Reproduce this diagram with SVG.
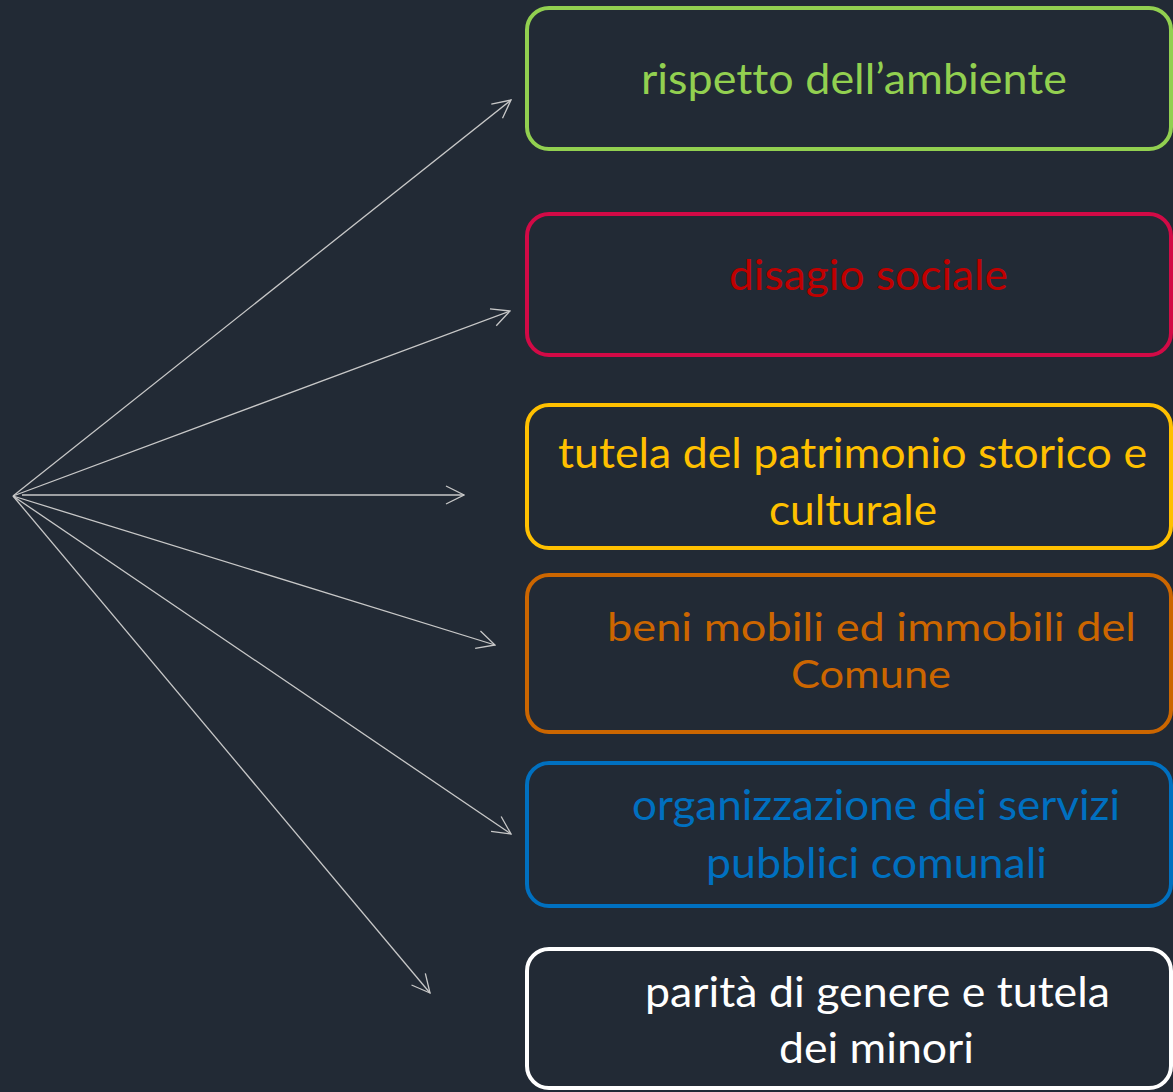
<svg xmlns="http://www.w3.org/2000/svg" width="1173" height="1092" viewBox="0 0 1173 1092">
<style>
.box{fill:#222A35;stroke-width:4}
.lbl{font-family:Lato,"Open Sans","Noto Sans","Liberation Sans",sans-serif;font-size:42px;text-anchor:start;font-variant-ligatures:none;font-feature-settings:"liga" 0}
.sm{font-size:38px}
.conn{stroke:#C8C8C8;stroke-width:1.3;fill:none;marker-end:url(#ah)}
</style>
<defs>
<marker id="ah" markerUnits="userSpaceOnUse" viewBox="0 0 20 20" markerWidth="20" markerHeight="20" refX="19" refY="10" orient="auto">
<path d="M1,1 L19,10 L1,19" fill="none" stroke="#C8C8C8" stroke-width="1.3"/>
</marker>
</defs>
<rect width="1173" height="1092" fill="#222A35"/>
<g id="connectors">
<line class="conn" x1="13" y1="496" x2="511" y2="100"/>
<line class="conn" x1="13" y1="496" x2="510" y2="311"/>
<line class="conn" x1="22" y1="495" x2="464" y2="495"/>
<line class="conn" x1="13" y1="496" x2="495" y2="645"/>
<line class="conn" x1="13" y1="496" x2="511" y2="834"/>
<line class="conn" x1="13" y1="496" x2="430" y2="993"/>
</g>
<g id="n1">
<rect class="box" x="527" y="8" width="644" height="141" rx="22" stroke="#92D050"/>
<text class="lbl" x="641" y="94" fill="#92D050" textLength="426" lengthAdjust="spacingAndGlyphs">rispetto dell’ambiente</text>
</g>
<g id="n2">
<rect class="box" x="527" y="214" width="644" height="141" rx="22" stroke="#D20A46"/>
<text class="lbl" x="729" y="290" fill="#C00000" textLength="279" lengthAdjust="spacingAndGlyphs">disagio sociale</text>
</g>
<g id="n3">
<rect class="box" x="527" y="405" width="644" height="143" rx="22" stroke="#FFC000"/>
<text class="lbl" x="558" y="468" fill="#FFC000" textLength="589" lengthAdjust="spacingAndGlyphs">tutela del patrimonio storico e</text>
<text class="lbl" x="769" y="525" fill="#FFC000" textLength="168" lengthAdjust="spacingAndGlyphs">culturale</text>
</g>
<g id="n4">
<rect class="box" x="527" y="575" width="644" height="157" rx="22" stroke="#CC6600"/>
<text class="lbl sm" x="607" y="641" fill="#CC6600" textLength="529" lengthAdjust="spacingAndGlyphs">beni mobili ed immobili del</text>
<text class="lbl sm" x="791" y="688" fill="#CC6600" textLength="160" lengthAdjust="spacingAndGlyphs">Comune</text>
</g>
<g id="n5">
<rect class="box" x="527" y="763" width="644" height="143" rx="22" stroke="#0070C0"/>
<text class="lbl" x="632" y="820" fill="#0070C0" textLength="488" lengthAdjust="spacingAndGlyphs">organizzazione dei servizi</text>
<text class="lbl" x="706" y="878" fill="#0070C0" textLength="341" lengthAdjust="spacingAndGlyphs">pubblici comunali</text>
</g>
<g id="n6">
<rect class="box" x="527" y="949" width="644" height="139" rx="22" stroke="#FFFFFF"/>
<text class="lbl" x="645" y="1007" fill="#FFFFFF" textLength="465" lengthAdjust="spacingAndGlyphs">parità di genere e tutela</text>
<text class="lbl" x="779" y="1063" fill="#FFFFFF" textLength="195" lengthAdjust="spacingAndGlyphs">dei minori</text>
</g>
</svg>
